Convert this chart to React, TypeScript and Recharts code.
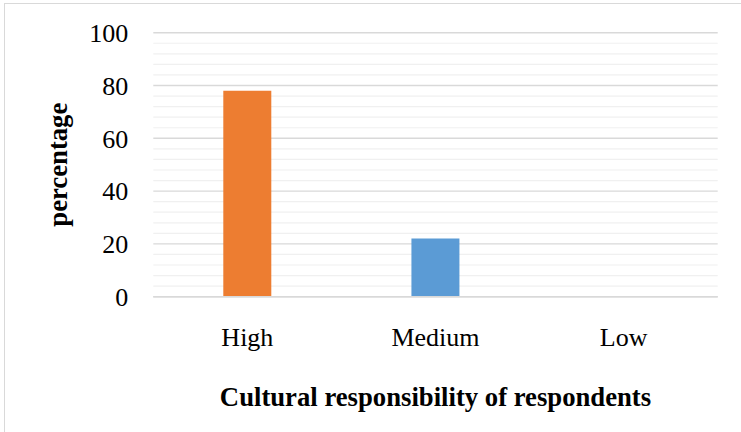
import React from 'react';
import { BarChart, Bar, XAxis, YAxis, CartesianGrid, Cell } from 'recharts';

// Share of respondents by level of cultural responsibility
const categories = ['High', 'Medium', 'Low'];
const percentages = [78, 22, 0];
const barColors = ['#ED7D31', '#5B9BD5', '#A5A5A5'];

const yTicks = [0, 20, 40, 60, 80, 100];
const yMinorTicks = [4, 8, 12, 16, 24, 28, 32, 36, 44, 48, 52, 56, 64, 68, 72, 76, 84, 88, 92, 96];

const xTitle = 'Cultural responsibility of respondents';
const yTitle = 'percentage';

const data = categories.map((name, i) => ({ name, value: percentages[i] }));

const FONT = '"Liberation Serif", "Times New Roman", serif';

// Minor gridlines placed through the y axis scale
const minorGridCoords = (props: any) => {
  const s = props?.yAxis?.scale;
  const f = typeof s === 'function' ? s : s?.map ? (v: number) => s.map(v) : null;
  if (!f) return [];
  return yMinorTicks.map((v) => f(v));
};

const YTitle = (props: any) => {
  const vb = props.viewBox || {};
  const cx = vb.x + 58;
  const cy = vb.y + vb.height / 2;
  return (
    <text
      x={cx}
      y={cy}
      transform={`rotate(-90 ${cx} ${cy})`}
      textAnchor="middle"
      dominantBaseline="central"
      style={{ fontFamily: FONT }}
      fontWeight="bold"
      fontSize={26.7}
      fill="#000"
    >
      {yTitle}
    </text>
  );
};

const XTitle = (props: any) => {
  const vb = props.viewBox || {};
  return (
    <text
      x={vb.x + vb.width / 2}
      y={vb.y + 109}
      textAnchor="middle"
      style={{ fontFamily: FONT }}
      fontWeight="bold"
      fontSize={26.7}
      fill="#000"
    >
      {xTitle}
    </text>
  );
};

export default function App() {
  return (
    <div
      style={{
        position: 'fixed',
        left: 0,
        top: 0,
        width: 741,
        height: 432,
        overflow: 'hidden',
        background: '#fff',
      }}
    >
      <div
        style={{
          position: 'absolute',
          left: 3.5,
          top: 3,
          width: 780,
          height: 470,
          border: '1.5px solid #d9d9d9',
          boxSizing: 'border-box',
        }}
      />
      <div style={{ position: 'absolute', left: 0, top: 0 }}>
        <BarChart
          width={741}
          height={432}
          data={data}
          margin={{ top: 32.7, right: 23.3, bottom: 0, left: 0 }}
        >
          <CartesianGrid
            vertical={false}
            horizontalCoordinatesGenerator={minorGridCoords}
            stroke="#f0f0f0"
            strokeWidth={1.2}
          />
          <CartesianGrid vertical={false} stroke="#d9d9d9" strokeWidth={1.4} />
          <XAxis
            dataKey="name"
            height={135.3}
            axisLine={{ stroke: '#d9d9d9', strokeWidth: 1.4 }}
            tickLine={false}
            tickSize={0}
            tickMargin={30.8}
            tick={{ fontFamily: FONT, fontSize: 26, fill: '#000' }}
            label={<XTitle />}
          />
          <YAxis
            width={153.3}
            domain={[0, 100]}
            ticks={yTicks}
            axisLine={false}
            tickLine={false}
            tickSize={0}
            tickMargin={25}
            tick={{ fontFamily: FONT, fontSize: 26, fill: '#000' }}
            label={<YTitle />}
          />
          <Bar dataKey="value" barSize={48} isAnimationActive={false}>
            {data.map((d, i) => (
              <Cell key={d.name} fill={barColors[i]} />
            ))}
          </Bar>
        </BarChart>
      </div>
    </div>
  );
}
